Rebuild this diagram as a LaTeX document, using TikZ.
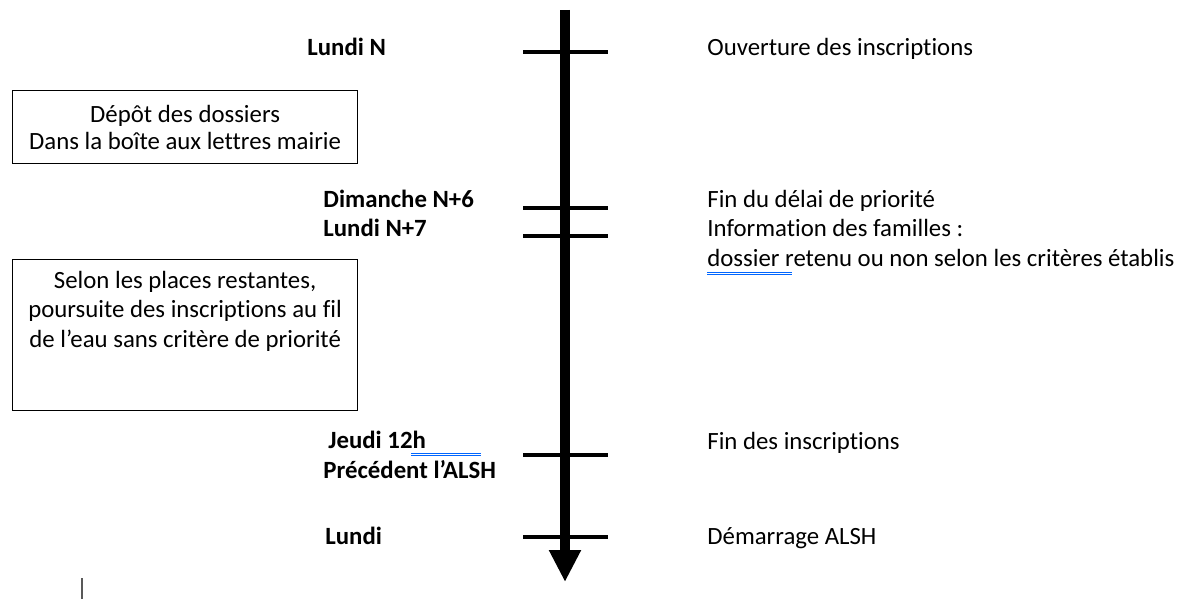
\documentclass[tikz,border=0pt]{standalone}
\usepackage{fontspec}
\setmainfont{Carlito}[Ligatures=CommonOff]
\usetikzlibrary{arrows.meta}
\tikzset{
    txt/.style={anchor=base west, inner sep=0pt, font=\fontsize{12.4}{14.4}\selectfont},
    datelab/.style={txt, font=\fontsize{12.4}{14.4}\selectfont\bfseries},
    boxframe/.style={draw, line width=0.6pt, minimum width=172.5pt, inner sep=0pt},
    boxtxt/.style={align=center, inner sep=0pt, font=\fontsize{12.4}{14.6}\selectfont},
    tickmark/.style={line width=2pt},
    spellmark/.style={draw=blue!60!cyan, line width=0.5pt, double distance=0.9pt}
}
\begin{document}
\begin{tikzpicture}[x=0.5pt, y=-0.5pt]
        \useasboundingbox (0,0) rectangle (1199,599);
        % time axis
        \coordinate (top) at (565,10);
        \coordinate (bottom) at (565,582);
        \draw[line width=5pt, -{Triangle[length=16pt, width=15pt]}] (top) -- (bottom);
        % ticks
        \foreach \n/\y in {t1/52, t2/208, t3/236, t4/455, t5/537} {
            \coordinate (\n l) at (523,\y);
            \coordinate (\n r) at (608,\y);
            \draw[tickmark] (\n l) -- (\n r);
        }
        % dates
        \node[datelab] (d1) at (307,56) {Lundi N};
        \node[datelab] (d2) at (323,207) {Dimanche N+6};
        \node[datelab] (d3) at (323,236) {Lundi N+7};
        \node[datelab] (d4) at (328,448) {Jeudi 12h};
        \node[datelab] (d5) at (323,478) {Précédent l’ALSH};
        \node[datelab] (d6) at (325,544) {Lundi};
        % events
        \node[txt] (e1) at (707,56) {Ouverture des inscriptions};
        \node[txt] (e2) at (707,207) {Fin du délai de priorité};
        \node[txt] (e3) at (707,236) {Information des familles :};
        \node[txt] (e4) at (707,266) {dossier retenu ou non selon les critères établis};
        \node[txt] (e5) at (707,449) {Fin des inscriptions};
        \node[txt] (e6) at (707,544) {Démarrage ALSH};
        % boxes
        \node[boxframe, minimum height=36.5pt, anchor=north west] (b1) at (12,90) {};
        \node[boxtxt, font=\fontsize{12.4}{13.5}\selectfont] (b1t) at (b1.center)
            {Dépôt des dossiers\\Dans la boîte aux lettres mairie};
        \node[boxframe, minimum height=75.5pt, anchor=north west] (b2) at (12,259) {};
        \node[boxtxt, anchor=north] (b2t) at ([yshift=-6pt]b2.north)
            {Selon les places restantes,\\poursuite des inscriptions au fil\\de l’eau sans critère de priorité};
        % spelling marks
        \draw[spellmark] (707,273.5) -- (792,273.5);
        \draw[spellmark] (411,454.5) -- (481,454.5);
        % cursor
        \draw[gray!70!black, line width=0.8pt] (82,578) -- (82,599);
    \end{tikzpicture}
\end{document}
